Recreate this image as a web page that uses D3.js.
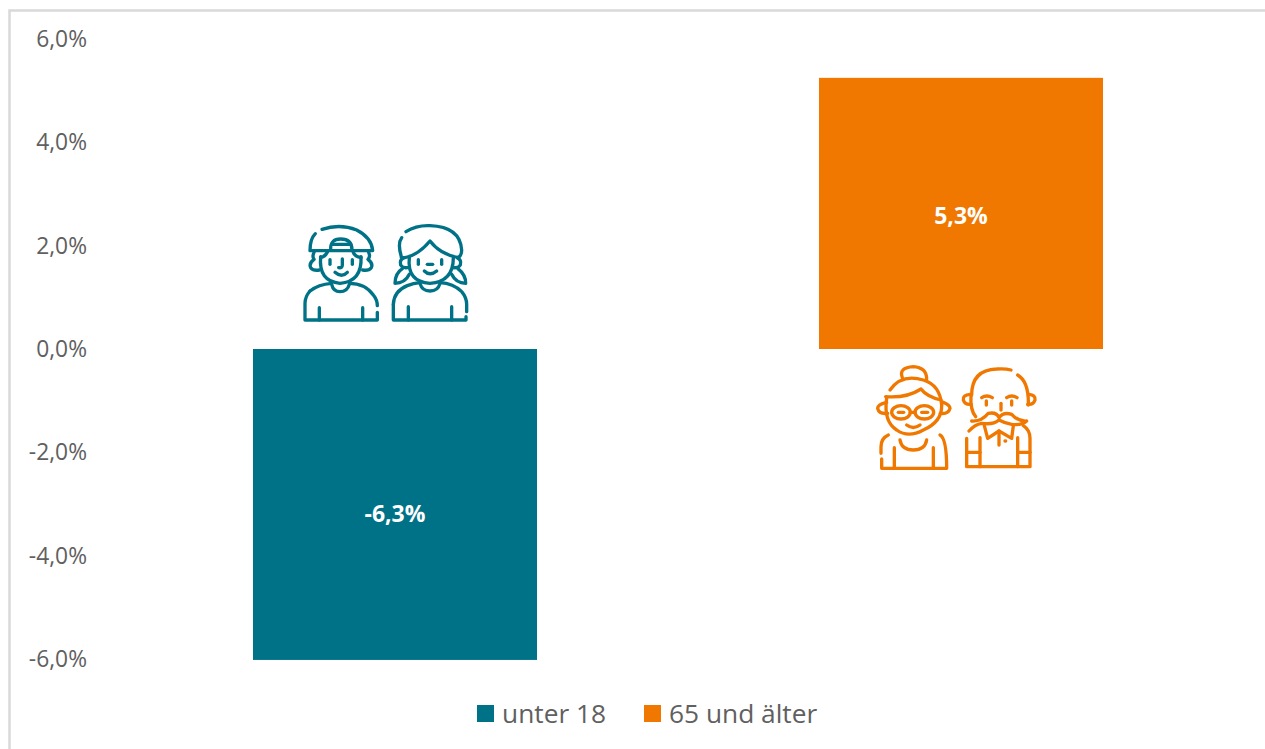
<!DOCTYPE html>
<html lang="de"><head><meta charset="utf-8">
<script src="https://cdn.jsdelivr.net/npm/d3@7"></script>
<style>
html,body{margin:0;padding:0;background:#fff;overflow:hidden}
text{font-family:"Open Sans","Noto Sans",sans-serif}
</style></head><body><svg id="c" width="1265" height="749"></svg>
<script>
const categories = ["unter 18", "65 und älter"];
const values = [-6.3, 5.25];
const valueLabels = ["-6,3%", "5,3%"];
const tickValues = [-6, -4, -2, 0, 2, 4, 6];
const barColors = ["#007287", "#f07800"];
const textColor = "#606060";

const iconBoy = [
 "M96 43Q150 25 200 45Q245 68 248 107H60Q60 72 76 56","M122 105Q120 72 152 72Q186 72 186 105","M126 88H182",
 "M92 125Q85 200 150 205Q217 200 213 125","M92 128Q105 125 112 112","M213 128Q195 125 190 112",
 "M72 112Q66 125 72 133Q56 145 62 158Q70 168 88 165","M236 112Q242 125 234 133Q250 145 244 158Q236 168 218 165",
 "M120 134V148","M187 134V148","M157 132V150Q157 160 146 158","M135 172Q155 190 172 172",
 "M60 228Q85 208 125 205","M125 208Q130 230 150 230Q172 230 178 208","M178 205Q225 205 250 240Q262 255 262 272",
 "M262 292V315H45V265Q45 245 60 228","M88 278V315","M218 278V315"];
const iconGirl = [
 "M348 50Q380 30 420 32Q510 35 515 105Q515 122 505 127","M334 125Q322 85 335 68",
 "M334 128H345Q385 120 420 78Q450 118 506 128","M358 128Q350 200 420 205Q490 200 490 128",
 "M340 130Q328 135 332 150Q338 160 352 158","M503 130Q515 135 511 150Q505 160 490 158",
 "M385 134V148","M455 134V148","M412 148H428","M403 168Q420 185 440 168",
 "M338 160Q315 175 315 205Q345 205 358 178","M503 160Q528 180 527 205Q498 205 485 178",
 "M310 268Q312 228 352 212Q370 205 390 203","M390 205Q396 228 420 228Q444 228 450 205","M450 203Q490 205 515 230Q530 248 530 268V290",
 "M310 268V315H528V305","M355 275V315","M485 275V315"];
const iconGranny = [
 "M112 68Q100 38 145 35Q185 38 185 72","M75 105Q110 55 175 75Q225 90 230 150",
 "M62 125Q125 130 168 102Q185 125 228 135","M65 130Q55 200 95 225Q130 250 175 225Q232 200 230 150",
 "M65 142Q38 148 38 160Q42 178 68 175","M235 142Q255 150 255 160Q250 178 226 175",
 "M80 172A28 20 0 1 0 136 172A28 20 0 1 0 80 172","M150 172A28 20 0 1 0 206 172A28 20 0 1 0 150 172","M136 172H150",
 "M100 172H116","M170 172H188","M125 210Q145 225 165 210",
 "M70 240Q48 250 48 275V295","M225 240Q245 250 245 340H50V312","M105 255Q110 285 145 285Q180 285 185 255",
 "M88 278V340","M205 278V340"];
const iconGrandpa = [
 "M320 120Q320 45 395 42Q420 40 438 45","M458 60Q492 80 490 150","M318 120Q315 165 332 185",
 "M315 118Q293 120 295 135Q300 150 318 148","M492 118Q512 120 510 135Q505 150 488 148",
 "M350 128Q365 118 382 128","M425 128Q440 118 456 128","M364 138V150","M440 138V150","M408 145V165",
 "M320 198Q350 200 370 175Q395 170 402 188Q415 170 440 178Q460 200 485 198Q470 212 440 208Q420 205 402 195Q385 210 350 205Q330 208 312 228",
 "M358 212L368 250L402 228L440 250L445 212","M402 228V270","M420 258H422",
 "M305 250V335H495V250Q495 225 475 212","M345 248V335","M458 248V335","M305 292H345","M458 292H495"];

const svg = d3.select("#c");
svg.append("path").attr("d","M1265 10.5H9.5V749").attr("fill","none").attr("stroke","#d9d9d9").attr("stroke-width",2.5);

const y = d3.scaleLinear().domain([-6, 6]).range([658.9, 39.1]);
const yBar = y.copy().domain([-6.02, 6]).range([y(-6.02), y(6)]).clamp(true);
const x = d3.scaleBand().domain(categories).range([112, 1244]).paddingInner(0.4982).paddingOuter(0.2491);

const axis = d3.axisLeft(y).tickValues(tickValues).tickSize(0).tickPadding(0)
  .tickFormat(d => d3.format(".1f")(d).replace("−","-").replace(".", ",") + "%");
const ax = svg.append("g").attr("transform","translate(87,0)").call(axis);
ax.select(".domain").remove();
ax.selectAll("text").attr("fill",textColor).attr("dy","0.33em").style("font-size","22.8px").style("font-family",'"Open Sans"');

svg.selectAll("rect.bar").data(categories).join("rect").attr("class","bar")
  .attr("x",d=>x(d)).attr("width",x.bandwidth())
  .attr("y",(d,i)=>Math.min(yBar(values[i]),yBar(0)))
  .attr("height",(d,i)=>Math.abs(yBar(values[i])-yBar(0)))
  .attr("fill",(d,i)=>barColors[i]);

svg.selectAll("text.val").data(categories).join("text").attr("class","val")
  .attr("x",d=>x(d)+x.bandwidth()/2)
  .attr("y",(d,i)=>(y(values[i])+y(0))/2+1.5)
  .attr("text-anchor","middle").attr("dominant-baseline","central")
  .attr("fill","#fff").style("font-size","23px").style("font-weight",700)
  .text((d,i)=>valueLabels[i]);

function icon(paths,color,ox,oy){
  svg.append("g").attr("transform",`translate(${ox},${oy}) scale(${1/3})`)
   .attr("fill","none").attr("stroke",color).attr("stroke-width",10).attr("stroke-linecap","round").attr("stroke-linejoin","round")
   .selectAll("path").data(paths).join("path").attr("d",d=>d);
}
icon(iconBoy.concat(iconGirl),barColors[0],290,215);
icon(iconGranny.concat(iconGrandpa),barColors[1],865,355);

const legendX = [477,644];
const lg = svg.selectAll("g.lg").data(categories).join("g").attr("class","lg").attr("transform",(d,i)=>`translate(${legendX[i]},705)`);
lg.append("rect").attr("width",17).attr("height",17).attr("fill",(d,i)=>barColors[i]);
lg.append("text").attr("x",25).attr("y",17.5).attr("fill",textColor).style("font-size","26.3px").text(d=>d);
</script></body></html>
